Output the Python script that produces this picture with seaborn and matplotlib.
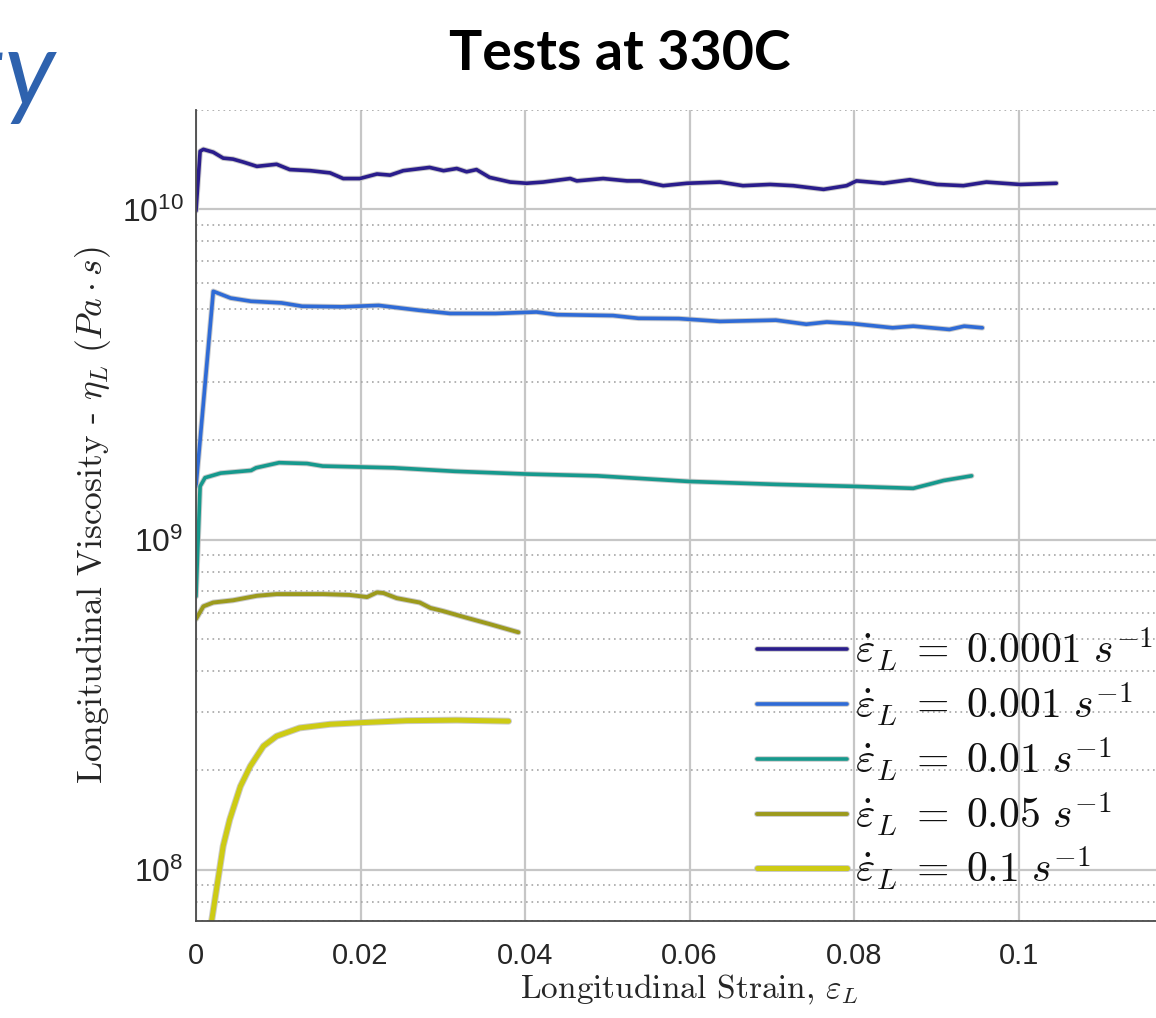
import matplotlib
matplotlib.use("Agg")
import matplotlib.pyplot as plt
import seaborn as sns
import pandas as pd
from matplotlib import patheffects as pe
from matplotlib.ticker import LogLocator, NullFormatter, FixedLocator

# ---------------- data ----------------
rates = ["0.0001", "0.001", "0.01", "0.05", "0.1"]
colors = ["#2A1D8C", "#2F6BD6", "#16998D", "#9C9A1C", "#CDCB14"]
line_widths = [2.6, 2.6, 2.6, 2.8, 3.6]

strain_r1 = [0, 0.0005, 0.0009, 0.0021, 0.0033, 0.0045, 0.0058, 0.0074, 0.0098, 0.0114,
             0.0139, 0.0163, 0.0179, 0.0199, 0.0220, 0.0236, 0.0252, 0.0284, 0.0301, 0.0317,
             0.0329, 0.0341, 0.0357, 0.0382, 0.0402, 0.0422, 0.0455, 0.0463, 0.0495, 0.0524,
             0.0540, 0.0568, 0.0597, 0.0637, 0.0665, 0.0698, 0.0726, 0.0763, 0.0791, 0.0803,
             0.0836, 0.0868, 0.0901, 0.0933, 0.0961, 0.1002, 0.1046]
visc_r1 = [0.99e10, 1.50e10, 1.52e10, 1.49e10, 1.43e10, 1.42e10, 1.39e10, 1.35e10, 1.37e10, 1.32e10,
           1.31e10, 1.29e10, 1.24e10, 1.24e10, 1.28e10, 1.27e10, 1.31e10, 1.34e10, 1.31e10, 1.33e10,
           1.30e10, 1.32e10, 1.25e10, 1.21e10, 1.20e10, 1.21e10, 1.24e10, 1.22e10, 1.24e10, 1.22e10,
           1.22e10, 1.18e10, 1.20e10, 1.21e10, 1.18e10, 1.19e10, 1.18e10, 1.15e10, 1.18e10, 1.22e10,
           1.20e10, 1.23e10, 1.19e10, 1.18e10, 1.21e10, 1.19e10, 1.20e10]

strain_r2 = [0, 0.0021, 0.0042, 0.0067, 0.0104, 0.0129, 0.0178, 0.0222, 0.0271, 0.0309,
             0.0364, 0.0414, 0.0439, 0.0507, 0.0538, 0.0587, 0.0637, 0.0705, 0.0742, 0.0767,
             0.0798, 0.0847, 0.0872, 0.0916, 0.0934, 0.0956]
visc_r2 = [1.45e9, 5.65e9, 5.39e9, 5.27e9, 5.21e9, 5.09e9, 5.07e9, 5.12e9, 4.95e9, 4.84e9,
           4.84e9, 4.89e9, 4.80e9, 4.77e9, 4.68e9, 4.67e9, 4.58e9, 4.62e9, 4.49e9, 4.56e9,
           4.51e9, 4.38e9, 4.43e9, 4.33e9, 4.43e9, 4.38e9]

strain_r3 = [0, 0.0005, 0.0011, 0.0030, 0.0067, 0.0073, 0.0101, 0.0135, 0.0154, 0.0197,
             0.0240, 0.0315, 0.0401, 0.0488, 0.0600, 0.0705, 0.0798, 0.0872, 0.0891, 0.0909,
             0.0943]
visc_r3 = [0.673e9, 1.45e9, 1.54e9, 1.59e9, 1.62e9, 1.65e9, 1.71e9, 1.70e9, 1.67e9, 1.66e9,
           1.65e9, 1.61e9, 1.58e9, 1.56e9, 1.50e9, 1.47e9, 1.45e9, 1.43e9, 1.47e9, 1.51e9,
           1.56e9]

strain_r4 = [0, 0.0009, 0.0021, 0.0045, 0.0074, 0.0098, 0.0155, 0.0187, 0.0208, 0.0220,
             0.0228, 0.0244, 0.0272, 0.0285, 0.0301, 0.0329, 0.0357, 0.0392]
visc_r4 = [5.75e8, 6.28e8, 6.45e8, 6.55e8, 6.76e8, 6.84e8, 6.84e8, 6.80e8, 6.70e8, 6.92e8,
           6.89e8, 6.65e8, 6.45e8, 6.21e8, 6.07e8, 5.80e8, 5.55e8, 5.24e8]

strain_r5 = [0.0017, 0.0019, 0.0033, 0.0041, 0.0054, 0.0066, 0.0082, 0.0098, 0.0126, 0.0163,
             0.0200, 0.0256, 0.0317, 0.0380]
visc_r5 = [0.62e8, 0.70e8, 1.18e8, 1.42e8, 1.79e8, 2.06e8, 2.37e8, 2.54e8, 2.69e8, 2.76e8,
           2.79e8, 2.83e8, 2.84e8, 2.82e8]

x_ticks = [0, 0.02, 0.04, 0.06, 0.08, 0.1, 0.12]
x_tick_labels = ["0", "0.02", "0.04", "0.06", "0.08", "0.1", "0.12"]

title_text = "Tests at 330C"
slide_title = "Viscosity"
x_label = r"$\text{Longitudinal Strain, }\varepsilon_L$"
y_label = r"$\text{Longitudinal Viscosity - }\eta_L\ (Pa\cdot s)$"
legend_labels = [r"$\dot{\varepsilon}_L\;=\;%s\ s^{-1}$" % r for r in rates]

# ---------------- build table ----------------
frames = []
for r, xs, ys in zip(rates,
                     [strain_r1, strain_r2, strain_r3, strain_r4, strain_r5],
                     [visc_r1, visc_r2, visc_r3, visc_r4, visc_r5]):
    frames.append(pd.DataFrame({"strain": xs, "viscosity": ys, "rate": r}))
df = pd.concat(frames, ignore_index=True)

# ---------------- style ----------------
sns.set_style("white")
plt.rcParams["font.family"] = ["Liberation Sans", "DejaVu Sans"]
plt.rcParams["axes.unicode_minus"] = False

fig = plt.figure(figsize=(11.56, 10.18), dpi=100)
W, H = 1156, 1018
ax_left, ax_right, ax_top, ax_bottom = 196, 1183, 110, 921
ax = fig.add_axes([ax_left / W, 1 - ax_bottom / H, (ax_right - ax_left) / W, (ax_bottom - ax_top) / H])

sns.lineplot(data=df, x="strain", y="viscosity", hue="rate", hue_order=rates,
             palette=dict(zip(rates, colors)), sort=False, estimator=None,
             legend=False, ax=ax)

ax.set_yscale("log")
ax.set_xlim(0, 0.12)
ax.set_ylim(7e7, 2e10)

for line, lw in zip(ax.get_lines(), line_widths):
    line.set_linewidth(lw)
    line.set_solid_capstyle("round")
    line.set_path_effects([pe.Stroke(linewidth=lw + 1.4, foreground="#bdbdbd", alpha=0.8), pe.Normal()])

# ticks
ax.xaxis.set_major_locator(FixedLocator(x_ticks))
ax.set_xticklabels(x_tick_labels)
ax.yaxis.set_major_locator(LogLocator(base=10))
ax.yaxis.set_minor_locator(LogLocator(base=10, subs=[2, 3, 4, 5, 6, 7, 8, 9]))
ax.yaxis.set_minor_formatter(NullFormatter())
ax.tick_params(which="major", direction="in", length=6.5, width=1.0, color="#3a3a3a",
               labelcolor="#262626")
ax.tick_params(which="minor", direction="in", length=3.6, width=1.0, color="#3a3a3a")
ax.tick_params(axis="x", which="major", pad=15, labelsize=21)
ax.tick_params(axis="y", which="major", pad=9, labelsize=23)
ax.tick_params(axis="x", which="minor", bottom=False)

# grid
ax.set_axisbelow(True)
ax.grid(which="major", axis="both", color="#c6c6c6", lw=1.6, ls="-")
ax.grid(which="minor", axis="y", color="#a6a6a6", lw=1.2, ls=(0, (1, 2.3)))

# spines
for s in ["top", "right"]:
    ax.spines[s].set_visible(False)
for s in ["left", "bottom"]:
    ax.spines[s].set_color("#4a4a4a")
    ax.spines[s].set_linewidth(1.3)

# labels
ax.set_xlabel(x_label, fontsize=24, color="#262626", math_fontfamily="cm")
ax.set_ylabel(y_label, fontsize=25.5, color="#262626", math_fontfamily="cm")
ax.xaxis.set_label_coords(0.5, -0.064)
ax.yaxis.set_label_coords(-0.084, 0.5)

# legend
leg = ax.legend(ax.get_lines(), legend_labels, loc="upper left",
                bbox_to_anchor=(757 / W, 1 - 626 / H), bbox_transform=fig.transFigure,
                frameon=False, fontsize=30, handlelength=2.16, handletextpad=0.19,
                labelspacing=0.175, borderpad=0, borderaxespad=0)
for t in leg.get_texts():
    t.set_math_fontfamily("cm")
    t.set_color("#111111")

# titles
fig.text(620 / W, 1 - 54 / H, title_text, ha="center", va="center", fontsize=40,
         fontweight="bold", family=["Lato", "DejaVu Sans"], color="black")
fig.text(55 / W, 1 - 106 / H, slide_title, ha="right", va="baseline", fontsize=76,
         style="italic", fontweight="normal", family=["Lato", "DejaVu Sans"], color="#2E62AE")

fig.savefig("out.png", dpi=100)
